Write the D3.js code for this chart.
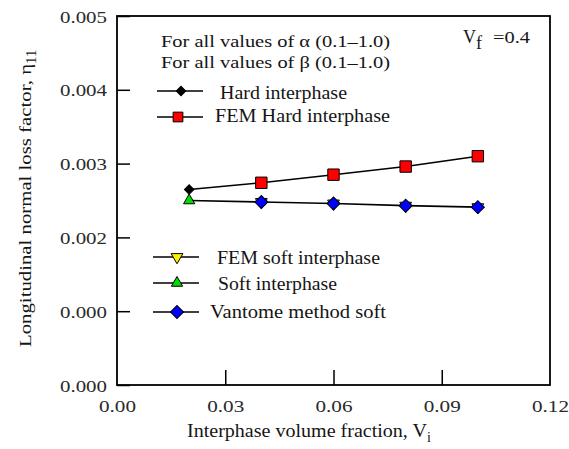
<!DOCTYPE html>
<html><head><meta charset="utf-8">
<script src="https://cdn.jsdelivr.net/npm/d3@7"></script>
</head><body style="margin:0;background:#fff"><svg id="c" width="569" height="449" style="display:block"></svg>
<script>
// data
const xTicks = [0.00, 0.03, 0.06, 0.09, 0.12];
const xTickLabels = ["0.00", "0.03", "0.06", "0.09", "0.12"];
const yTicks = [0.000, 0.001, 0.002, 0.003, 0.004, 0.005];
const yTickLabels = ["0.000", "0.000", "0.002", "0.003", "0.004", "0.005"];
const hardX = [0.02, 0.04, 0.06, 0.08, 0.10];
const hardY = [0.00265, 0.00274, 0.00285, 0.00296, 0.00310];
const femHardX = [0.04, 0.06, 0.08, 0.10];
const femHardY = [0.00274, 0.00285, 0.00296, 0.00310];
const softX = [0.02, 0.04, 0.06, 0.08, 0.10];
const softY = [0.00250, 0.00248, 0.00246, 0.00243, 0.00241];
const femSoftX = [0.04, 0.06, 0.08, 0.10];
const femSoftY = [0.00248, 0.00246, 0.00243, 0.00241];
const vantX = [0.04, 0.06, 0.08, 0.10];
const vantY = [0.00248, 0.00246, 0.00243, 0.00241];

const svg = d3.select("#c");
const L = 117, R = 550, T = 16, B = 385;
const x = d3.scaleLinear().domain([0, 0.12]).range([L, R]);
const y = d3.scaleLinear().domain([0, 0.005]).range([B, T]);

function fit(sel, w) { sel.attr("textLength", w).attr("lengthAdjust", "spacingAndGlyphs"); return sel; }

// axes
const ya = svg.append("g").attr("transform", `translate(${L},0)`)
  .call(d3.axisLeft(y).tickValues(yTicks).tickFormat((d, i) => yTickLabels[i]).tickSize(-13).tickPadding(10));
ya.select(".domain").remove();
ya.selectAll(".tick line").attr("stroke", "#000").attr("stroke-width", 1.5);
ya.selectAll(".tick text").attr("font-size", 17).attr("fill", "#2a2a2a")
  .attr("dy", "0.36em").each(function () { fit(d3.select(this), 47); });

const xa = svg.append("g").attr("transform", `translate(0,${B})`)
  .call(d3.axisBottom(x).tickValues(xTicks).tickFormat((d, i) => xTickLabels[i]).tickSize(-15).tickPadding(0));
xa.select(".domain").remove();
xa.selectAll(".tick line").attr("stroke", "#000").attr("stroke-width", 1.5)
  .filter(d => d === 0 || d === 0.12).remove();
xa.selectAll(".tick text").attr("font-size", 17).attr("fill", "#2a2a2a")
  .attr("y", 27).attr("dy", 0).each(function () { fit(d3.select(this), 37); });

// frame
svg.append("rect").attr("x", L).attr("y", T).attr("width", R - L).attr("height", B - T)
  .attr("fill", "none").attr("stroke", "#000").attr("stroke-width", 1.8);

// lines
const line = d3.line().x(d => x(d[0])).y(d => y(d[1]));
svg.append("path").datum(d3.zip(hardX, hardY)).attr("d", line).attr("fill", "none").attr("stroke", "#000").attr("stroke-width", 1.6);
svg.append("path").datum(d3.zip(softX, softY)).attr("d", line).attr("fill", "none").attr("stroke", "#000").attr("stroke-width", 1.6);

const sym = (type, size) => d3.symbol().type(type).size(size)();
function marks(xs, ys, type, size, fill, rot) {
  svg.append("g").selectAll("path").data(d3.zip(xs, ys)).join("path")
    .attr("d", sym(type, size))
    .attr("transform", d => `translate(${x(d[0])},${y(d[1])}) rotate(${rot || 0})`)
    .attr("fill", fill).attr("stroke", "#000").attr("stroke-width", 1);
}
marks(femSoftX, femSoftY, d3.symbolTriangle, 60, "#ffee00", 180);
marks(vantX, vantY, d3.symbolSquare, 85, "#0000ff", 45);
marks([softX[0]], [softY[0]], d3.symbolTriangle, 55, "#00dd00", 0);
marks([hardX[0]], [hardY[0]], d3.symbolSquare, 45, "#000", 45);
marks(femHardX, femHardY, d3.symbolSquare, 130, "#ff0000", 0);

// legend
function legItem(cy, base, type, size, fill, rot, x1, x2, mx, label, tx, tw) {
  svg.append("line").attr("x1", x1).attr("x2", x2).attr("y1", cy).attr("y2", cy).attr("stroke", "#000").attr("stroke-width", 1.6);
  svg.append("path").attr("d", sym(type, size)).attr("transform", `translate(${mx},${cy}) rotate(${rot})`)
    .attr("fill", fill).attr("stroke", "#000").attr("stroke-width", 1);
  fit(svg.append("text").attr("x", tx).attr("y", base).attr("font-size", 18).text(label), tw);
}
fit(svg.append("text").attr("x", 161).attr("y", 47).attr("font-size", 17).text("For all values of  α (0.1–1.0)"), 229);
fit(svg.append("text").attr("x", 161).attr("y", 68).attr("font-size", 17).text("For all values of  β (0.1–1.0)"), 229);
legItem(91, 99, d3.symbolSquare, 45, "#000", 45, 157, 203, 181, "Hard interphase", 220, 127);
legItem(117, 122, d3.symbolSquare, 95, "#ff0000", 0, 157, 203, 178, "FEM Hard interphase", 215, 175);
legItem(257, 264, d3.symbolTriangle, 60, "#ffee00", 180, 153, 199, 177, "FEM soft interphase", 217, 163);
legItem(283, 290, d3.symbolTriangle, 55, "#00dd00", 0, 153, 199, 177, "Soft interphase", 218, 119);
legItem(312, 318, d3.symbolSquare, 85, "#0000ff", 45, 153, 199, 177, "Vantome method soft", 210, 176);

const vf = svg.append("text").attr("x", 463).attr("y", 43).attr("font-size", 18);
vf.append("tspan").text("V");
vf.append("tspan").attr("font-size", 18).attr("dy", 6).text("f");
fit(svg.append("text").attr("x", 493).attr("y", 43).attr("font-size", 17).text("=0.4"), 37);

// axis titles
const xt = svg.append("text").attr("x", 187).attr("y", 437).attr("font-size", 18);
fit(xt.append("tspan").text("Interphase volume fraction, V"), 240);
xt.append("tspan").attr("font-size", 14).attr("dy", 5).text("i");

const yt = svg.append("text").attr("transform", "translate(31,347) rotate(-90)").attr("font-size", 17);
fit(yt.append("tspan").text("Longitudinal normal loss factor, η"), 283);
yt.append("tspan").attr("font-size", 15).attr("dy", 5).text("11");

svg.selectAll("text").style("font-family", "Liberation Serif").style("fill", function () { return d3.select(this).attr("fill") || "#151515"; });
</script></body></html>
